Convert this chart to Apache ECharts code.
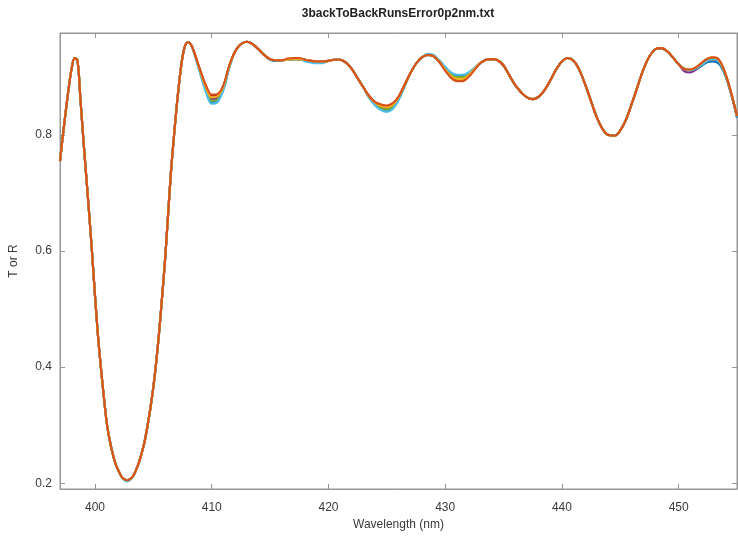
<!DOCTYPE html>
<html>
<head>
<meta charset="utf-8">
<title>3backToBackRunsError0p2nm.txt</title>
<script src="https://cdn.jsdelivr.net/npm/echarts@6/dist/echarts.min.js"></script>
<style>
  html, body { margin: 0; padding: 0; background: #ffffff; }
  #chart { width: 738px; height: 536px; }
</style>
</head>
<body>
<div id="chart"></div>
<script>
// Wavelength samples (nm): 0.25 nm steps over the deep band, 0.5 nm after
const wavelengths = [
  397.00,397.25,397.50,397.75,398.00,398.25,398.50,398.75,399.00,399.25,
  399.50,399.75,400.00,400.25,400.50,400.75,401.00,401.25,401.50,401.75,
  402.00,402.25,402.50,402.75,403.00,403.25,403.50,403.75,404.00,404.25,
  404.50,404.75,405.00,405.25,405.50,405.75,406.00,406.25,406.50,406.75,
  407.00,407.25,407.50,407.75,408.00,408.25,408.50,408.75,409.00,
  409.5,410.0,410.5,411.0,411.5,
  412.0,412.5,413.0,413.5,414.0,414.5,415.0,415.5,416.0,416.5,
  417.0,417.5,418.0,418.5,419.0,419.5,420.0,420.5,421.0,421.5,
  422.0,422.5,423.0,423.5,424.0,424.5,425.0,425.5,426.0,426.5,
  427.0,427.5,428.0,428.5,429.0,429.5,430.0,430.5,431.0,431.5,
  432.0,432.5,433.0,433.5,434.0,434.5,435.0,435.5,436.0,436.5,
  437.0,437.5,438.0,438.5,439.0,439.5,440.0,440.5,441.0,441.5,
  442.0,442.5,443.0,443.5,444.0,444.5,445.0,445.5,446.0,446.5,
  447.0,447.5,448.0,448.5,449.0,449.5,450.0,450.5,451.0,451.5,
  452.0,452.5,453.0,453.5,454.0,454.5,455.0
];

// Measured T/R for each run
const run1 = [ // blue
  0.755,0.800,0.842,0.882,0.915,0.933,0.928,0.862,0.793,0.729,
  0.664,0.596,0.523,0.455,0.400,0.350,0.305,0.275,0.252,0.234,
  0.222,0.212,0.207,0.205,0.207,0.212,0.222,0.235,0.252,0.272,
  0.299,0.330,0.366,0.410,0.462,0.522,0.585,0.660,0.735,0.795,
  0.850,0.898,0.935,0.956,0.960,0.955,0.941,0.925,0.908,
  0.876,0.856,0.859,0.879,0.917,
  0.944,0.957,0.961,0.957,0.948,0.938,0.930,0.928,0.929,0.930,
  0.931,0.931,0.929,0.927,0.926,0.926,0.928,0.930,0.930,0.925,
  0.914,0.898,0.882,0.864,0.852,0.845,0.842,0.846,0.861,0.883,
  0.906,0.923,0.934,0.938,0.936,0.928,0.916,0.907,0.902,0.902,
  0.907,0.915,0.924,0.930,0.931,0.929,0.920,0.903,0.886,0.874,
  0.865,0.862,0.866,0.877,0.894,0.913,0.927,0.933,0.928,0.912,
  0.887,0.858,0.830,0.810,0.800,0.799,0.808,0.827,0.855,0.885,
  0.914,0.936,0.948,0.950,0.945,0.934,0.922,0.914,0.912,0.914,
  0.920,0.926,0.927,0.922,0.902,0.870,0.830
];
const run2 = [ // orange
  0.755,0.800,0.842,0.882,0.915,0.933,0.928,0.862,0.793,0.729,
  0.664,0.596,0.523,0.455,0.400,0.350,0.305,0.275,0.252,0.234,
  0.222,0.212,0.207,0.205,0.207,0.212,0.222,0.235,0.252,0.272,
  0.299,0.330,0.366,0.410,0.462,0.522,0.585,0.660,0.735,0.795,
  0.850,0.898,0.935,0.956,0.960,0.955,0.943,0.928,0.913,
  0.886,0.870,0.871,0.886,0.920,
  0.944,0.957,0.961,0.957,0.948,0.938,0.931,0.929,0.929,0.932,
  0.933,0.933,0.930,0.928,0.927,0.927,0.928,0.930,0.930,0.925,
  0.914,0.898,0.882,0.867,0.857,0.853,0.851,0.855,0.866,0.886,
  0.906,0.923,0.934,0.938,0.936,0.926,0.911,0.899,0.893,0.893,
  0.900,0.912,0.924,0.930,0.931,0.929,0.920,0.903,0.886,0.874,
  0.865,0.862,0.866,0.877,0.894,0.913,0.927,0.933,0.928,0.912,
  0.887,0.858,0.830,0.810,0.800,0.799,0.808,0.827,0.855,0.885,
  0.914,0.936,0.948,0.950,0.945,0.934,0.922,0.914,0.913,0.917,
  0.925,0.932,0.934,0.929,0.907,0.873,0.833
];
const run3 = [ // yellow
  0.755,0.800,0.842,0.882,0.915,0.933,0.928,0.862,0.793,0.729,
  0.664,0.596,0.523,0.455,0.400,0.350,0.305,0.275,0.252,0.234,
  0.222,0.212,0.207,0.205,0.207,0.212,0.222,0.235,0.252,0.272,
  0.299,0.330,0.366,0.410,0.462,0.522,0.585,0.660,0.735,0.795,
  0.850,0.898,0.935,0.956,0.960,0.955,0.942,0.927,0.911,
  0.882,0.865,0.867,0.884,0.919,
  0.944,0.957,0.961,0.957,0.948,0.938,0.931,0.929,0.929,0.930,
  0.931,0.931,0.930,0.928,0.927,0.927,0.928,0.930,0.930,0.925,
  0.914,0.898,0.882,0.866,0.856,0.850,0.848,0.852,0.865,0.885,
  0.906,0.923,0.934,0.938,0.936,0.927,0.913,0.902,0.897,0.897,
  0.903,0.914,0.924,0.930,0.931,0.929,0.920,0.903,0.886,0.874,
  0.865,0.862,0.866,0.877,0.894,0.913,0.927,0.933,0.928,0.912,
  0.887,0.858,0.830,0.810,0.800,0.799,0.808,0.827,0.855,0.885,
  0.914,0.936,0.948,0.950,0.945,0.934,0.922,0.914,0.913,0.917,
  0.925,0.932,0.934,0.928,0.906,0.873,0.833
];
const run4 = [ // purple
  0.755,0.800,0.842,0.882,0.915,0.933,0.928,0.862,0.793,0.729,
  0.664,0.596,0.523,0.455,0.400,0.350,0.305,0.275,0.252,0.234,
  0.222,0.212,0.207,0.205,0.207,0.212,0.222,0.235,0.252,0.272,
  0.299,0.330,0.366,0.410,0.462,0.522,0.585,0.660,0.735,0.795,
  0.850,0.898,0.935,0.956,0.960,0.955,0.942,0.926,0.910,
  0.880,0.862,0.864,0.882,0.918,
  0.944,0.957,0.961,0.957,0.948,0.938,0.931,0.929,0.929,0.930,
  0.931,0.931,0.930,0.928,0.927,0.927,0.928,0.930,0.930,0.925,
  0.914,0.898,0.882,0.866,0.855,0.849,0.847,0.851,0.864,0.885,
  0.906,0.923,0.934,0.938,0.936,0.927,0.914,0.903,0.898,0.898,
  0.904,0.914,0.924,0.930,0.931,0.929,0.920,0.903,0.886,0.874,
  0.865,0.862,0.866,0.877,0.894,0.913,0.927,0.933,0.928,0.912,
  0.887,0.858,0.830,0.810,0.800,0.799,0.808,0.827,0.855,0.885,
  0.914,0.936,0.948,0.950,0.945,0.934,0.922,0.910,0.908,0.913,
  0.922,0.929,0.931,0.926,0.905,0.872,0.832
];
const run5 = [ // green
  0.755,0.800,0.842,0.882,0.915,0.933,0.928,0.862,0.793,0.729,
  0.664,0.596,0.523,0.455,0.400,0.350,0.305,0.275,0.252,0.234,
  0.222,0.212,0.207,0.205,0.207,0.212,0.222,0.235,0.252,0.272,
  0.299,0.330,0.366,0.410,0.462,0.522,0.585,0.660,0.735,0.795,
  0.850,0.898,0.935,0.956,0.960,0.955,0.942,0.926,0.909,
  0.878,0.859,0.861,0.880,0.917,
  0.944,0.957,0.961,0.957,0.948,0.938,0.931,0.929,0.929,0.930,
  0.931,0.931,0.928,0.926,0.925,0.925,0.928,0.930,0.930,0.925,
  0.914,0.898,0.882,0.865,0.853,0.846,0.844,0.848,0.862,0.884,
  0.906,0.923,0.934,0.938,0.936,0.928,0.915,0.905,0.900,0.900,
  0.905,0.915,0.924,0.930,0.931,0.929,0.920,0.903,0.886,0.874,
  0.865,0.862,0.866,0.877,0.894,0.913,0.927,0.933,0.928,0.912,
  0.887,0.858,0.830,0.810,0.800,0.799,0.808,0.827,0.855,0.885,
  0.914,0.936,0.948,0.950,0.945,0.934,0.922,0.914,0.912,0.915,
  0.922,0.929,0.931,0.926,0.905,0.872,0.832
];
const run6 = [ // cyan
  0.755,0.800,0.842,0.882,0.915,0.933,0.928,0.862,0.793,0.729,
  0.664,0.596,0.523,0.455,0.400,0.350,0.305,0.275,0.252,0.234,
  0.222,0.211,0.205,0.203,0.205,0.211,0.222,0.235,0.252,0.272,
  0.299,0.330,0.366,0.410,0.462,0.522,0.585,0.660,0.735,0.795,
  0.850,0.898,0.935,0.956,0.960,0.955,0.941,0.924,0.907,
  0.874,0.854,0.857,0.878,0.916,
  0.944,0.957,0.961,0.957,0.948,0.938,0.931,0.929,0.929,0.930,
  0.931,0.931,0.927,0.925,0.924,0.924,0.928,0.930,0.930,0.925,
  0.914,0.898,0.882,0.864,0.851,0.843,0.840,0.845,0.860,0.883,
  0.906,0.923,0.934,0.940,0.938,0.929,0.918,0.908,0.904,0.904,
  0.908,0.916,0.924,0.930,0.931,0.929,0.920,0.903,0.886,0.874,
  0.865,0.862,0.866,0.877,0.894,0.913,0.927,0.933,0.928,0.912,
  0.887,0.858,0.830,0.810,0.800,0.799,0.808,0.827,0.855,0.885,
  0.914,0.936,0.948,0.950,0.945,0.934,0.922,0.914,0.912,0.915,
  0.922,0.929,0.931,0.926,0.905,0.872,0.832
];
const run7 = [ // dark red
  0.755,0.800,0.842,0.882,0.915,0.933,0.928,0.862,0.793,0.729,
  0.664,0.596,0.523,0.455,0.400,0.350,0.305,0.275,0.252,0.234,
  0.222,0.212,0.207,0.205,0.207,0.212,0.222,0.235,0.252,0.272,
  0.299,0.330,0.366,0.410,0.462,0.522,0.585,0.660,0.735,0.795,
  0.850,0.898,0.935,0.956,0.960,0.955,0.943,0.927,0.912,
  0.884,0.868,0.869,0.885,0.919,
  0.944,0.957,0.961,0.957,0.948,0.938,0.931,0.929,0.929,0.930,
  0.931,0.931,0.930,0.928,0.927,0.927,0.928,0.930,0.930,0.925,
  0.914,0.898,0.882,0.867,0.857,0.852,0.850,0.854,0.866,0.886,
  0.906,0.923,0.934,0.938,0.936,0.926,0.912,0.900,0.895,0.895,
  0.902,0.913,0.924,0.930,0.931,0.929,0.920,0.903,0.886,0.874,
  0.865,0.862,0.866,0.877,0.894,0.913,0.927,0.933,0.928,0.912,
  0.887,0.858,0.830,0.810,0.800,0.799,0.808,0.827,0.855,0.885,
  0.914,0.936,0.948,0.950,0.945,0.934,0.922,0.914,0.912,0.915,
  0.922,0.929,0.931,0.926,0.905,0.872,0.832
];

const xTicks = [400, 410, 420, 430, 440, 450];
const yTicks = [0.2, 0.4, 0.6, 0.8];

// Drawing order: orange last so it sits on top
const runs = [
  { name: 'run7', color: '#A2142F', values: run7 },
  { name: 'run1', color: '#0072BD', values: run1 },
  { name: 'run4', color: '#7E2F8E', values: run4 },
  { name: 'run5', color: '#77AC30', values: run5 },
  { name: 'run6', color: '#4DBEEE', values: run6 },
  { name: 'run3', color: '#EDB120', values: run3 },
  { name: 'run2', color: '#D95319', values: run2 }
];

const FONT = 'Liberation Sans, Arial, Helvetica, sans-serif';
const FRAME = '#969696';
const TEXT = '#3a3a3a';

const chart = echarts.init(document.getElementById('chart'), null, { renderer: 'canvas' });

const tickStyle = { show: true, inside: true, length: 5, lineStyle: { color: FRAME, width: 1 } };

chart.setOption({
  animation: false,
  backgroundColor: '#ffffff',
  graphic: [{
    type: 'text',
    x: 398, y: 14,
    style: {
      text: '3backToBackRunsError0p2nm.txt',
      font: 'bold 12px ' + FONT,
      fill: '#222222',
      textAlign: 'center',
      textVerticalAlign: 'middle'
    }
  }],
  grid: {
    left: 58, right: 1, top: 33, bottom: 42,
    show: true, borderColor: FRAME, borderWidth: 1, backgroundColor: '#ffffff'
  },
  xAxis: [{
    type: 'value', min: 397, max: 455, position: 'bottom',
    name: 'Wavelength (nm)', nameLocation: 'middle', nameGap: 30,
    nameTextStyle: { color: TEXT, fontSize: 12, fontFamily: FONT },
    axisLine: { show: true, lineStyle: { color: FRAME, width: 1 } },
    axisTick: Object.assign({ customValues: xTicks }, tickStyle),
    axisLabel: { customValues: xTicks, color: TEXT, fontSize: 12, fontFamily: FONT, margin: 13 },
    splitLine: { show: false }
  }, {
    type: 'value', min: 397, max: 455, position: 'top',
    axisLine: { show: true, lineStyle: { color: FRAME, width: 1 } },
    axisTick: Object.assign({ customValues: xTicks }, tickStyle),
    axisLabel: { show: false },
    splitLine: { show: false }
  }],
  yAxis: [{
    type: 'value', min: 0.19, max: 0.976, position: 'left',
    name: 'T or R', nameLocation: 'middle', nameGap: 40, nameRotate: 90,
    nameTextStyle: { color: TEXT, fontSize: 12, fontFamily: FONT },
    axisLine: { show: true, lineStyle: { color: FRAME, width: 1 } },
    axisTick: Object.assign({ customValues: yTicks }, tickStyle),
    axisLabel: { customValues: yTicks, color: TEXT, fontSize: 12, fontFamily: FONT, margin: 8,
      formatter: v => v.toFixed(1) },
    splitLine: { show: false }
  }, {
    type: 'value', min: 0.19, max: 0.976, position: 'right',
    axisLine: { show: true, lineStyle: { color: FRAME, width: 1 } },
    axisTick: Object.assign({ customValues: yTicks }, tickStyle),
    axisLabel: { show: false },
    splitLine: { show: false }
  }],
  series: runs.map(r => ({
    name: r.name,
    type: 'line',
    xAxisIndex: 0, yAxisIndex: 0,
    data: wavelengths.map((w, i) => [w, r.values[i]]),
    smooth: 0.35,
    showSymbol: false,
    clip: true,
    lineStyle: { color: r.color, width: 2.1 },
    itemStyle: { color: r.color }
  }))
});
</script>
</body>
</html>
